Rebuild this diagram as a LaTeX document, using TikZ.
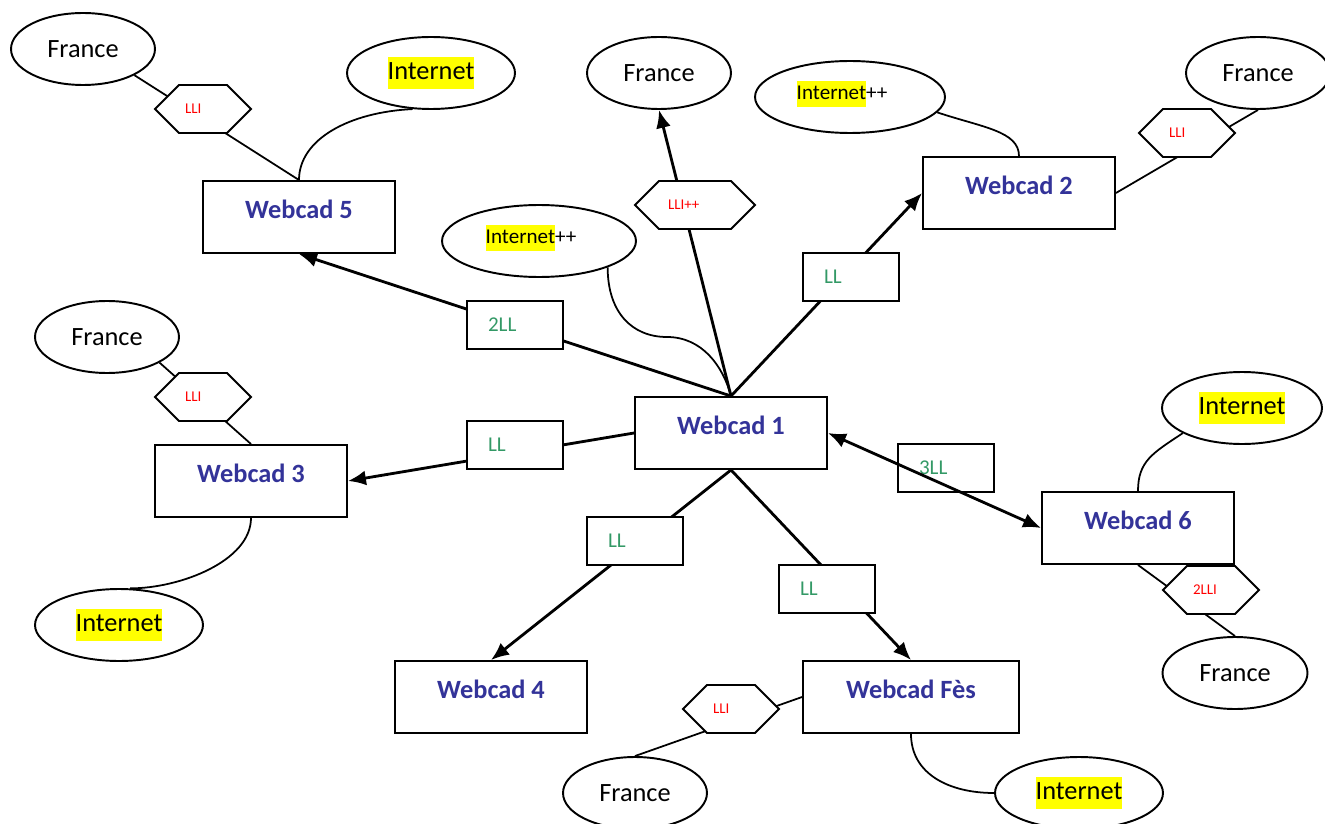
\documentclass[tikz,border=0pt]{standalone}
\usepackage{fontspec}
\setmainfont{Carlito}
\usetikzlibrary{arrows.meta,shapes.geometric}

\definecolor{webblue}{RGB}{51,51,153}
\definecolor{llgreen}{RGB}{51,153,102}
\definecolor{lired}{RGB}{255,0,0}
\definecolor{hlyellow}{RGB}{255,255,0}

% yellow highlight behind a word
\newcommand\hlt[1]{{\setlength{\fboxsep}{0pt}\colorbox{hlyellow}{\strut #1}}}

% flat hexagon: pointed left and right, the points inset by half the height
\makeatletter
\newdimen\hx@l \newdimen\hx@r \newdimen\hx@b \newdimen\hx@t \newdimen\hx@m \newdimen\hx@h
\pgfdeclareshape{hexbox}{%
  \inheritsavedanchors[from=rectangle]%
  \inheritanchorborder[from=rectangle]%
  \inheritanchor[from=rectangle]{center}%
  \inheritanchor[from=rectangle]{north}%
  \inheritanchor[from=rectangle]{south}%
  \inheritanchor[from=rectangle]{east}%
  \inheritanchor[from=rectangle]{west}%
  \inheritanchor[from=rectangle]{text}%
  \backgroundpath{%
    \southwest \hx@l=\pgf@x \hx@b=\pgf@y
    \northeast \hx@r=\pgf@x \hx@t=\pgf@y
    \hx@h=.5\hx@t \advance\hx@h by -.5\hx@b
    \hx@m=.5\hx@t \advance\hx@m by .5\hx@b
    \pgfpathmoveto{\pgfqpoint{\hx@l}{\hx@m}}%
    \pgfpathlineto{\pgfqpoint{\dimexpr\hx@l+\hx@h\relax}{\hx@t}}%
    \pgfpathlineto{\pgfqpoint{\dimexpr\hx@r-\hx@h\relax}{\hx@t}}%
    \pgfpathlineto{\pgfqpoint{\hx@r}{\hx@m}}%
    \pgfpathlineto{\pgfqpoint{\dimexpr\hx@r-\hx@h\relax}{\hx@b}}%
    \pgfpathlineto{\pgfqpoint{\dimexpr\hx@l+\hx@h\relax}{\hx@b}}%
    \pgfpathclose
  }%
}
\makeatother

\tikzset{
  webcad/.style={draw, line width=1.1pt, rectangle, fill=white,
    minimum width=3.84cm, inner sep=0pt, text height=0.75cm, text depth=0.69cm,
    font=\fontsize{15}{18}\selectfont\bfseries, text=webblue},
  bubble/.style={draw, ellipse, line width=1.1pt, fill=white, inner sep=0pt,
    minimum height=1.44cm, font=\fontsize{15}{18.7}\selectfont},
  smallbubble/.style={bubble, font=\fontsize{12}{15.3}\selectfont, text depth=8pt},
  linkbox/.style={draw, line width=1.1pt, rectangle, fill=white,
    minimum width=1.92cm, minimum height=0.96cm, inner xsep=0.42cm, inner ysep=0pt,
    text width=1.08cm, align=left, font=\fontsize{12}{14}\selectfont, text=llgreen},
  hexlink/.style={draw, shape=hexbox, line width=1.1pt, fill=white,
    minimum width=1.92cm, minimum height=0.96cm, inner xsep=0.6cm, inner ysep=0pt,
    outer sep=0pt, text width=0.72cm, align=left,
    font=\fontsize{8.5}{10}\selectfont, text=lired},
  thinlink/.style={line width=1pt},
  tipshape/.tip={Latex[length=0.36cm,width=0.3cm]},
  arrowlink/.style={line width=1.6pt, -tipshape},
  arrowboth/.style={line width=1.6pt, tipshape-tipshape},
}

\begin{document}
\begin{tikzpicture}[x=0.02cm, y=-0.02cm]
\useasboundingbox (0,0) rectangle (1325,824);
\clip (0,0) rectangle (1325,824);
\fill[white] (0,0) rectangle (1325,824);

% sites
\node[webcad] (w1) at (731,433) {Webcad 1};
\node[webcad] (w2) at (1019,193) {Webcad 2};
\node[webcad] (w3) at (251,481) {Webcad 3};
\node[webcad] (w4) at (491,697) {Webcad 4};
\node[webcad] (w5) at (299,217) {Webcad 5};
\node[webcad] (w6) at (1138,528) {Webcad 6};
\node[webcad, minimum width=4.32cm] (wf) at (911,697) {Webcad Fès};

% external networks
\node[bubble, minimum width=2.88cm] (ftl) at (83,49) {France};
\node[bubble, minimum width=3.36cm] (itl) at (431,73) {\hlt{Internet}};
\node[bubble, minimum width=2.88cm] (fc) at (659,73) {France};
\node[smallbubble, minimum width=3.8cm] (itop) at (850,97) {\hlt{Internet}++\hspace*{0.32cm}};
\node[bubble, minimum width=2.88cm] (ftr) at (1258,73) {France};
\node[smallbubble, minimum width=3.88cm] (imid) at (539,241) {\hlt{Internet}++\hspace*{0.32cm}};
\node[bubble, minimum width=2.88cm] (fl) at (107,337) {France};
\node[bubble, minimum width=3.36cm] (ilf) at (119,625) {\hlt{Internet}};
\node[bubble, minimum width=3.2cm] (irt) at (1242,408) {\hlt{Internet}};
\node[bubble, minimum width=2.9cm] (fr) at (1235,673) {France};
\node[bubble, minimum width=2.88cm] (fb) at (635,793) {France};
\node[bubble, minimum width=3.36cm] (ibt) at (1079,793) {\hlt{Internet}};

% this link box lies under its arrow
\node[linkbox] (b6) at (946,468) {3LL};

% leased lines from Webcad 1
\draw[arrowlink] (w1.north) -- (w5.south);
\draw[arrowlink] (w1.north) -- (fc.south);
\draw[arrowlink] (w1.north) -- (w2.west);
\draw[arrowlink] (w1.west) -- (w3.east);
\draw[arrowlink] (w1.south) -- (w4.north);
\draw[arrowlink] (w1.south) -- (wf.north);
\draw[arrowboth] (w1.east) -- (w6.west);

% local connections
\draw[thinlink] (ftl.-27) -- (w5.north);
\draw[thinlink] (itl.-117) .. controls +(-63,3) and +(0,-41) .. (w5.north);
\draw[thinlink] (imid.-21) .. controls +(0,45) and +(-35,0) .. (667,337)
                .. controls +(35,0) and +(-8,-30) .. (w1.north);
\draw[thinlink] (itop.-10) .. controls +(45,15) and +(0,-25) .. (w2.north);
\draw[thinlink] (w2.east) -- (ftr.south);
\draw[thinlink] (fl.-26) -- (w3.north);
\draw[thinlink] (w3.south) .. controls +(0,43) and +(50,0) .. (ilf.73);
\draw[thinlink] (irt.203) .. controls +(-30,20) and +(0,-30) .. (w6.north);
\draw[thinlink] (w6.south) -- (fr.north);
\draw[thinlink] (wf.west) -- (fb.north);
\draw[thinlink] (wf.south) .. controls +(0,40) and +(-45,0) .. (ibt.west);

% link labels drawn over the lines
\node[linkbox] (b5) at (515,325) {2LL};
\node[linkbox] (b2) at (851,277) {LL};
\node[linkbox] (b3) at (515,445) {LL};
\node[linkbox] (b4) at (635,541) {LL};
\node[linkbox] (bf) at (827,589) {LL};

\node[hexlink] (h5) at (203,109) {LLI};
\node[hexlink, minimum width=2.4cm, inner xsep=0.66cm, text width=1.08cm] (hc) at (695,205) {LLI++};
\node[hexlink] (h2) at (1187,133) {LLI};
\node[hexlink] (h3) at (203,397) {LLI};
\node[hexlink] (h6) at (1211,590) {2LLI};
\node[hexlink] (hf) at (731,709) {LLI};
\end{tikzpicture}
\end{document}
